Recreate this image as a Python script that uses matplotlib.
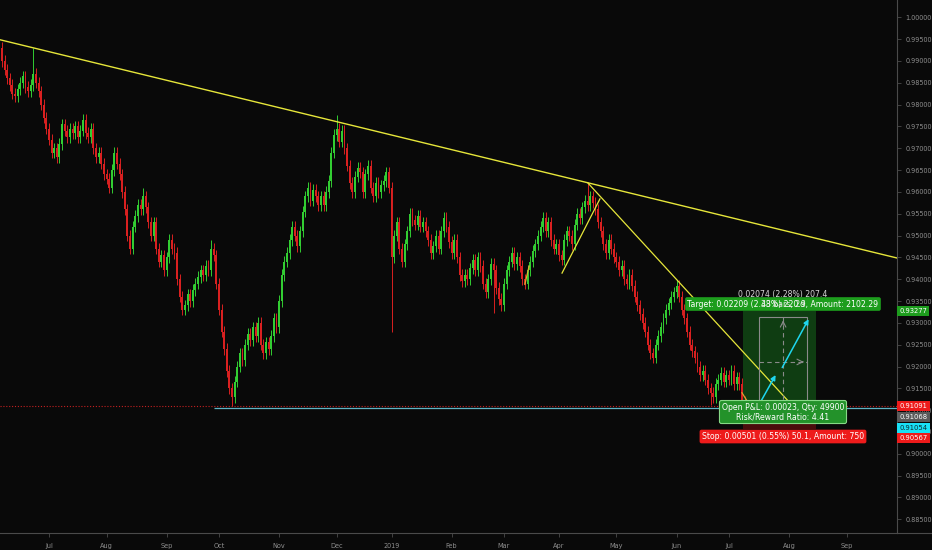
import numpy as np
import pandas as pd
import matplotlib
matplotlib.use("Agg")
import matplotlib.pyplot as plt
from matplotlib.patches import Rectangle

# ---------------- data ----------------
start_date = "2018-06-05"
first_open = 0.9950
closes = [
    0.9930, 0.9900, 0.9880, 0.9860,
    0.9845, 0.9825, 0.9820, 0.9835,
    0.9850, 0.9865, 0.9840, 0.9830,
    0.9845, 0.9870, 0.9850,
    0.9830, 0.9800, 0.9770, 0.9745,
    0.9720, 0.9690, 0.9700, 0.9680,
    0.9710, 0.9755, 0.9740, 0.9725,
    0.9745, 0.9735, 0.9750, 0.9725,
    0.9740, 0.9765, 0.9735, 0.9725,
    0.9745, 0.9700, 0.9680, 0.9690,
    0.9665, 0.9640, 0.9630, 0.9610,
    0.9650, 0.9690, 0.9665, 0.9640,
    0.9600, 0.9560, 0.9500, 0.9470,
    0.9520, 0.9545, 0.9570, 0.9560,
    0.9590, 0.9565, 0.9530, 0.9500,
    0.9530, 0.9470, 0.9440, 0.9455,
    0.9420, 0.9450, 0.9490, 0.9470,
    0.9460, 0.9400, 0.9360, 0.9330,
    0.9340, 0.9365, 0.9350, 0.9375,
    0.9390, 0.9405, 0.9420, 0.9410,
    0.9430, 0.9420, 0.9470, 0.9455,
    0.9390, 0.9330, 0.9280, 0.9240,
    0.9190, 0.9150, 0.9130, 0.9165,
    0.9200, 0.9230, 0.9215, 0.9250,
    0.9275, 0.9260, 0.9290, 0.9270,
    0.9300, 0.9250, 0.9230, 0.9255,
    0.9240, 0.9270, 0.9310, 0.9290,
    0.9350, 0.9410, 0.9440, 0.9460,
    0.9490, 0.9520, 0.9500, 0.9475,
    0.9510, 0.9555, 0.9590, 0.9610,
    0.9580, 0.9605, 0.9590, 0.9570,
    0.9590, 0.9570, 0.9600, 0.9625,
    0.9690, 0.9730, 0.9745, 0.9715,
    0.9740, 0.9700, 0.9660, 0.9620,
    0.9600, 0.9635, 0.9655, 0.9645,
    0.9600, 0.9640, 0.9660, 0.9610,
    0.9590, 0.9620, 0.9600, 0.9615,
    0.9625, 0.9645, 0.9610, 0.9450,
    0.9500, 0.9530, 0.9470, 0.9440,
    0.9480, 0.9510, 0.9550, 0.9535,
    0.9525, 0.9545, 0.9520, 0.9530,
    0.9510, 0.9490, 0.9460, 0.9475,
    0.9500, 0.9470, 0.9510, 0.9540,
    0.9520, 0.9485, 0.9460, 0.9490,
    0.9450, 0.9410, 0.9395, 0.9410,
    0.9400, 0.9425, 0.9445, 0.9420,
    0.9450, 0.9430, 0.9390, 0.9370,
    0.9400, 0.9435, 0.9420, 0.9380,
    0.9355, 0.9340, 0.9390, 0.9420,
    0.9440, 0.9460, 0.9435, 0.9450,
    0.9430, 0.9400, 0.9390, 0.9420,
    0.9440, 0.9465, 0.9480, 0.9500,
    0.9520, 0.9540, 0.9510, 0.9530,
    0.9490, 0.9470, 0.9480, 0.9455,
    0.9445, 0.9490, 0.9510, 0.9500,
    0.9480, 0.9525, 0.9550, 0.9540,
    0.9565, 0.9580, 0.9570, 0.9590,
    0.9575, 0.9560, 0.9530, 0.9510,
    0.9480, 0.9460, 0.9490, 0.9470,
    0.9450, 0.9440, 0.9420, 0.9430,
    0.9400, 0.9390, 0.9410, 0.9385,
    0.9360, 0.9340, 0.9320, 0.9300,
    0.9280, 0.9250, 0.9230, 0.9220,
    0.9250, 0.9270, 0.9290, 0.9310,
    0.9330, 0.9345, 0.9360, 0.9370,
    0.9385, 0.9360, 0.9330, 0.9310,
    0.9280, 0.9250, 0.9235, 0.9220,
    0.9200, 0.9180, 0.9190, 0.9170,
    0.9150, 0.9140, 0.9130, 0.9160,
    0.9170, 0.9185, 0.9165, 0.9180,
    0.9170, 0.9190, 0.9160, 0.9175,
    0.9160, 0.9120, 0.9109,
]
# notable wick extremes (bar index -> price)
high_wicks = {0: 0.9955, 13: 0.9930, 55: 0.9610, 81: 0.9490, 129: 0.9776,
              225: 0.9621, 259: 0.9395}
low_wicks = {89: 0.9110, 150: 0.9280, 189: 0.9322, 272: 0.9112}
wick_pad = 0.0013

last_price = 0.91091
entry_price = 0.91068
ray_price = 0.91054
target_price = 0.93277
stop_price = 0.90567
projected_move = 0.02074

price_ticks = np.round(np.arange(0.885, 1.00001, 0.005), 3)
month_names = ["Jul", "Aug", "Sep", "Oct", "Nov", "Dec", "2019", "Feb", "Mar",
               "Apr", "May", "Jun", "Jul", "Aug", "Sep"]

# ---------------- derived ----------------
c = np.array(closes)
n = len(c)
o = np.concatenate([[first_open], c[:-1]])
hi = np.maximum(o, c) + wick_pad
lo = np.minimum(o, c) - wick_pad
for k, v in high_wicks.items():
    hi[k] = max(hi[k], v)
for k, v in low_wicks.items():
    lo[k] = min(lo[k], v)
x = np.arange(n)

all_days = pd.bdate_range(start_date, periods=360)
month_idx = []
seen = set()
for i, d in enumerate(all_days):
    key = (d.year, d.month)
    if key not in seen:
        seen.add(key)
        if i > 0:
            month_idx.append(i)
month_idx = month_idx[:len(month_names)]

# ---------------- figure ----------------
BG = "#090909"
GREEN = "#32cd32"
RED = "#d92020"
YELLOW = "#e6e63a"
W, H = 932, 550
fig = plt.figure(figsize=(W / 100, H / 100), dpi=100, facecolor=BG)
ax = fig.add_axes([0, 17 / H, 897 / W, 533 / H])
ax.set_facecolor(BG)

XMIN, XMAX = 0.27, 343.3
YMIN, YMAX = 0.88186, 1.00396
ax.set_xlim(XMIN, XMAX)
ax.set_ylim(YMIN, YMAX)

# horizontal price lines
ax.axhline(last_price, color="#c42020", lw=0.8, ls=(0, (1, 1.6)), zorder=1)
ax.hlines(ray_price, 82, XMAX, color="#5fb3c4", lw=0.9, zorder=1)

# candles
up = c >= o
cols = np.where(up, GREEN, RED)
ax.vlines(x, lo, hi, colors=cols, lw=0.7, zorder=2)
ax.bar(x, np.maximum(np.abs(c - o), 0.0004), bottom=np.minimum(o, c),
       width=0.72, color=cols, lw=0, zorder=3)

# main trend line through bar 13 and bar 225 highs
x1, y1 = 13, high_wicks[13]
x2, y2 = 225, high_wicks[225]
slope = (y2 - y1) / (x2 - x1)
ax.plot([XMIN, XMAX], [y1 + slope * (XMIN - x1), y1 + slope * (XMAX - x1)],
        color=YELLOW, lw=1.0, zorder=4)
# descending line from April high
ax.plot([225, 302.4], [high_wicks[225], 0.91164], color=YELLOW, lw=0.9, zorder=4)
# short rising line
ax.plot([215.2, 229.7], [0.9414, 0.9584], color=YELLOW, lw=0.9, zorder=4)
ax.plot([201.0, 202.6], [0.9388, 0.9430], color="#e0b030", lw=0.9, zorder=4)
ax.plot([284.0, 286.3], [0.9140, 0.9118], color="#e0a030", lw=0.9, zorder=4)

# long position tool
px0, px1 = 284.5, 312.5
ax.add_patch(Rectangle((px0, entry_price), px1 - px0, target_price - entry_price,
                       facecolor="#0f3d12", edgecolor="none", zorder=1.5))
ax.add_patch(Rectangle((px0, stop_price), px1 - px0, entry_price - stop_price,
                       facecolor="#4a0c0c", edgecolor="none", zorder=1.5))
bx0, bx1 = 290.5, 309.0
top = entry_price + projected_move
ax.add_patch(Rectangle((bx0, entry_price), bx1 - bx0, projected_move,
                       facecolor="none", edgecolor="#8a8a8a", lw=0.8, zorder=5))
midx = (bx0 + bx1) / 2
midy = entry_price + projected_move / 2
ax.plot([midx, midx], [entry_price, top], color="#8a8a8a", lw=0.8, ls=(0, (4, 3)), zorder=5)
ax.plot([bx0, bx1], [midy, midy], color="#8a8a8a", lw=0.8, ls=(0, (4, 3)), zorder=5)
ax.annotate("", xy=(midx, top - 0.0002), xytext=(midx, top - 0.0025),
            arrowprops=dict(arrowstyle="->", color="#8a8a8a", lw=0.8), zorder=5)
ax.annotate("", xy=(bx1 - 0.3, midy), xytext=(bx1 - 3, midy),
            arrowprops=dict(arrowstyle="->", color="#8a8a8a", lw=0.8), zorder=5)
CYAN = "#1fd6ef"
ax.annotate("", xy=(297.4, 0.9186), xytext=(290.1, 0.9108),
            arrowprops=dict(arrowstyle="-|>", color=CYAN, lw=1.1,
                            mutation_scale=7), zorder=6)
ax.annotate("", xy=(310.0, 0.9314), xytext=(298.9, 0.9192),
            arrowprops=dict(arrowstyle="-|>", color=CYAN, lw=1.1,
                            mutation_scale=7), zorder=6)

def ypix(p):
    return 1 - (p - 17.3) / 4365.0

cx = 299.7
ax.text(cx, ypix(294), "0.02074 (2.28%) 207.4", color="#d8d8d8", fontsize=5.6,
        ha="center", va="center", zorder=7)
ax.text(cx, ypix(304), "Target: 0.02209 (2.43%) 220.9, Amount: 2102.29",
        color="white", fontsize=5.6, ha="center", va="center", zorder=7,
        bbox=dict(boxstyle="round,pad=0.3,rounding_size=0.25", fc="#1d9d1d", ec="none"))
ax.text(cx, ypix(304), "38 bars, 2d", color="#e8e8e8", fontsize=5.6,
        ha="center", va="center", zorder=8)
ax.text(cx, ypix(412), "Open P&L: 0.00023, Qty: 49900\nRisk/Reward Ratio: 4.41",
        color="white", fontsize=5.6, ha="center", va="center", zorder=7,
        linespacing=1.05,
        bbox=dict(boxstyle="round,pad=0.3,rounding_size=0.25", fc="#23922a",
                  ec="#86d886", lw=0.8))
ax.text(cx, ypix(436.5), "Stop: 0.00501 (0.55%) 50.1, Amount: 750",
        color="white", fontsize=5.6, ha="center", va="center", zorder=7,
        bbox=dict(boxstyle="round,pad=0.3,rounding_size=0.25", fc="#ee1b1b", ec="none"))

# axes styling
for s in ["top", "left"]:
    ax.spines[s].set_visible(False)
ax.spines["right"].set_color("#4a4a4a")
ax.spines["bottom"].set_color("#4a4a4a")
ax.spines["right"].set_linewidth(0.8)
ax.spines["bottom"].set_linewidth(0.8)
ax.yaxis.tick_right()
ax.set_yticks(price_ticks)
ax.set_yticklabels([f"{t:.5f}" for t in price_ticks])
ax.set_xticks(month_idx)
ax.set_xticklabels(month_names)
ax.tick_params(axis="both", colors="#4a4a4a", labelcolor="#8e8e8e",
               labelsize=4.7, length=3, width=0.6)
ax.tick_params(axis="y", pad=3)
ax.tick_params(axis="x", pad=4)
fig.add_artist(plt.Line2D([897 / W, 1], [17 / H, 17 / H], color="#4a4a4a",
                          lw=0.8, transform=fig.transFigure))

# price labels on axis
def axis_label(ypx, text, fc, tc):
    fig.text(899.5 / W, 1 - ypx / H, text, fontsize=4.9, color=tc, ha="left",
             va="center", bbox=dict(boxstyle="square,pad=0.32", fc=fc, ec="none"))

axis_label(310.7, f"{target_price:.5f}", "#1d9d1d", "white")
axis_label(406.3, f"{last_price:.5f}", "#ee1b1b", "white")
axis_label(417.0, f"{entry_price:.5f}", "#5a5a5a", "white")
axis_label(427.7, f"{ray_price:.5f}", "#19e0f5", "#0b2a30")
axis_label(438.3, f"{stop_price:.5f}", "#ee1b1b", "white")

fig.savefig("out.png", dpi=100, facecolor=BG)
